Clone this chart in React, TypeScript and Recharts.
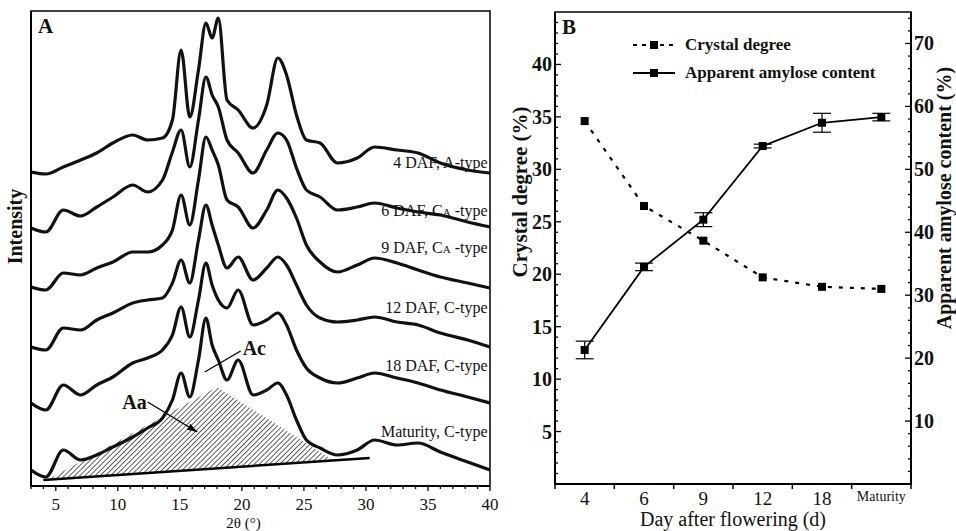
import React from "react";
import {
  Area,
  ComposedChart,
  ErrorBar,
  Label,
  Legend,
  Line,
  ReferenceArea,
  ReferenceDot,
  ReferenceLine,
  XAxis,
  YAxis,
} from "recharts";

const SERIF = '"Liberation Serif", "DejaVu Serif", serif';
const INK = "#111";

// ---- panel A: XRD patterns (intensity in a.u., curves stacked) ----
const twoTheta = [3, 4.2, 5.6, 7, 8.3, 9.6, 11.2, 12.4, 13.6, 14.4, 15.1, 15.8, 16.5, 17.1, 17.6, 18.1, 18.8, 19.7, 20.9, 22, 22.9, 23.6, 24.4, 25.2, 26.3, 27.7, 29.3, 30.7, 32.5, 34.2, 36, 38.2, 40];
const daf4 = [314, 312, 319, 326, 333, 343, 351, 346, 348, 366, 436, 369, 416, 463, 448, 468, 386, 376, 358, 381, 428, 411, 371, 346, 343, 323, 328, 339, 336, 333, 323, 316, 313];
const daf6 = [258, 254, 276, 270, 279, 289, 301, 294, 306, 334, 356, 319, 366, 409, 391, 379, 346, 333, 313, 336, 353, 346, 318, 296, 289, 276, 279, 283, 278, 274, 271, 264, 259];
const daf9 = [199, 196, 213, 211, 218, 224, 234, 234, 241, 256, 291, 261, 306, 349, 336, 321, 286, 279, 258, 276, 296, 288, 268, 241, 224, 214, 221, 228, 223, 216, 209, 203, 198];
const daf12 = [139, 136, 158, 156, 166, 173, 183, 186, 188, 203, 226, 203, 246, 281, 261, 241, 218, 229, 206, 218, 229, 221, 201, 181, 168, 164, 166, 169, 164, 161, 153, 146, 139];
const daf18 = [83, 76, 101, 91, 101, 109, 123, 128, 136, 151, 179, 149, 186, 223, 201, 186, 178, 196, 161, 166, 173, 161, 136, 118, 108, 103, 108, 113, 108, 103, 96, 89, 83];
const maturity = [16, 9, 36, 26, 31, 39, 49, 58, 68, 86, 113, 89, 126, 168, 141, 126, 106, 126, 91, 96, 103, 91, 66, 46, 38, 31, 36, 46, 41, 43, 34, 24, 16];
const patternKeys = ["daf4", "daf6", "daf9", "daf12", "daf18", "maturity"];
const patternLabels = ["4 DAF, A-type", "6 DAF, CA-type", "9 DAF, CA-type", "12 DAF, C-type", "18 DAF, C-type", "Maturity, C-type"];
const patternLabelLevel = [323, 275, 238, 178, 120, 54];

// amorphous area (Aa) under the maturity pattern and its baseline
const hatchTheta = [4.3, 18, 27.4];
const hatchLow = [6, 17.7, 25.6];
const hatchHigh = [6, 99, 25.6];
const baseTheta = [4, 30.3];
const baseLevel = [6, 28];

const thetaLabels = [5, 10, 15, 20, 25, 30, 35, 40];

// ---- panel B ----
const days = ["4", "6", "9", "12", "18", "Maturity"];
const crystalDegree = [34.6, 26.5, 23.2, 19.7, 18.8, 18.6];
const amylose = [21.3, 34.5, 42.0, 53.7, 57.4, 58.3];
const amyloseErr = [1.4, 0.6, 1.1, 0.3, 1.5, 0.6];
const crystalLabels = [5, 10, 15, 20, 25, 30, 35, 40];
const amyloseLabels = [10, 20, 30, 40, 50, 60, 70];
const seriesNames = ["Crystal degree", "Apparent amylose content"];

const xrdRows = twoTheta.map((t, i) => ({
  t,
  daf4: daf4[i],
  daf6: daf6[i],
  daf9: daf9[i],
  daf12: daf12[i],
  daf18: daf18[i],
  maturity: maturity[i],
}));
const hatchRows = hatchTheta.map((t, i) => ({ t, range: [hatchLow[i], hatchHigh[i]] }));
const baseRows = baseTheta.map((t, i) => ({ t, v: baseLevel[i] }));

const bRows = days.map((d, i) => ({
  x: i + 0.5,
  day: d,
  crystal: crystalDegree[i],
  amylose: amylose[i],
  amyloseErr: amyloseErr[i],
}));

const thetaTicks = Array.from({ length: 38 }, (_, i) => 3 + i);
const dayTicks = Array.from({ length: 13 }, (_, i) => i / 2);
const crystalTicks = Array.from({ length: 44 }, (_, i) => i + 1);
const amyloseTicks = Array.from({ length: 37 }, (_, i) => (i + 1) * 2);

function ThetaTick({ x, y, payload }: any) {
  const v = payload.value;
  const major = thetaLabels.includes(v);
  return (
    <g>
      <line x1={x} y1={y} x2={x} y2={y + (major ? 5 : 3)} stroke="#000" strokeWidth={1.3} />
      {major && (
        <text x={x} y={y + 24} textAnchor="middle" fontFamily={SERIF} fontSize={17} fill={INK}>
          {v}
        </text>
      )}
    </g>
  );
}

function DayTick({ x, y, payload }: any) {
  const v = payload.value;
  if (Number.isInteger(v)) {
    return <line x1={x} y1={y} x2={x} y2={y + 5} stroke="#000" strokeWidth={1.5} />;
  }
  const name = days[Math.floor(v)];
  const small = name.length > 3;
  return (
    <text x={x} y={y + (small ? 17 : 21)} textAnchor="middle" fontFamily={SERIF} fontSize={small ? 14 : 19} fill={INK}>
      {name}
    </text>
  );
}

function CrystalTick({ x, y, payload }: any) {
  const v = payload.value;
  const major = v % 5 === 0;
  return (
    <g>
      <line x1={x} y1={y} x2={x + (major ? 6 : 3)} y2={y} stroke="#000" strokeWidth={1.3} />
      {crystalLabels.includes(v) && (
        <text x={x - 3} y={y} dy={7} textAnchor="end" fontFamily={SERIF} fontWeight="bold" fontSize={20} fill={INK}>
          {v}
        </text>
      )}
    </g>
  );
}

function AmyloseTick({ x, y, payload }: any) {
  const v = payload.value;
  const major = v % 10 === 0;
  return (
    <g>
      <line x1={x} y1={y} x2={x - (major ? 6 : 3)} y2={y} stroke="#000" strokeWidth={1.3} />
      {amyloseLabels.includes(v) && (
        <text x={x + 3} y={y} dy={7} textAnchor="start" fontFamily={SERIF} fontWeight="bold" fontSize={20} fill={INK}>
          {v}
        </text>
      )}
    </g>
  );
}

function VTitle({ viewBox, text, dx = 0, dy = 0, size = 20 }: any) {
  const cx = viewBox.x + viewBox.width / 2 + dx;
  const cy = viewBox.y + viewBox.height / 2 + dy;
  return (
    <text
      x={cx}
      y={cy}
      transform={`rotate(-90 ${cx} ${cy})`}
      textAnchor="middle"
      dominantBaseline="central"
      fontFamily={SERIF}
      fontWeight="bold"
      fontSize={size}
      fill={INK}
    >
      {text}
    </text>
  );
}

function HTitle({ viewBox, text, dx = 0, size = 15, lift = 3 }: any) {
  return (
    <text
      x={viewBox.x + viewBox.width / 2 + dx}
      y={viewBox.y + viewBox.height - lift}
      textAnchor="middle"
      fontFamily={SERIF}
      fontSize={size}
      fill={INK}
    >
      {text}
    </text>
  );
}

function CurveTag({ viewBox, text }: any) {
  const parts = text.split("CA-type");
  return (
    <text x={viewBox.x} y={viewBox.y} dy={5} textAnchor="end" fontFamily={SERIF} fontSize={16} fill={INK}>
      {parts.length > 1 ? (
        <>
          {parts[0]}C<tspan fontSize={11}>A</tspan> -type
        </>
      ) : (
        text
      )}
    </text>
  );
}

function BoldTag({ viewBox, text }: any) {
  return (
    <text x={viewBox.x} y={viewBox.y} dy={7} textAnchor="middle" fontFamily={SERIF} fontWeight="bold" fontSize={20} fill={INK}>
      {text}
    </text>
  );
}

function ArrowLine(props: any) {
  const { x1, y1, x2, y2 } = props;
  const a = Math.atan2(y2 - y1, x2 - x1);
  const bx = x2 - 10 * Math.cos(a);
  const by = y2 - 10 * Math.sin(a);
  const s = Math.sin(a) * 3.5;
  const c = Math.cos(a) * 3.5;
  return (
    <g>
      <line x1={x1} y1={y1} x2={x2} y2={y2} stroke="#000" strokeWidth={1.4} />
      <polygon points={`${x2},${y2} ${bx - s},${by + c} ${bx + s},${by - c}`} fill="#000" />
    </g>
  );
}

function SquareDot({ cx, cy }: any) {
  if (cx == null || cy == null) return null;
  return <rect x={cx - 4} y={cy - 4} width={8} height={8} fill="#000" />;
}

function BLegend({ payload }: any) {
  const entries = seriesNames.map((n) => (payload || []).find((e: any) => e.value === n)).filter(Boolean);
  return (
    <div style={{ fontFamily: SERIF, fontWeight: "bold", fontSize: 17, color: INK }}>
      {entries.map((entry: any) => (
        <div key={entry.value} style={{ display: "flex", alignItems: "center", height: 28 }}>
          <svg width={42} height={12}>
            <line
              x1={0}
              y1={6}
              x2={42}
              y2={6}
              stroke="#000"
              strokeWidth={2}
              strokeDasharray={entry.value === seriesNames[0] ? "4 5" : undefined}
            />
            <rect x={17} y={2} width={8} height={8} fill="#000" />
          </svg>
          <span style={{ marginLeft: 10 }}>{entry.value}</span>
        </div>
      ))}
    </div>
  );
}

function XrdPanel() {
  return (
    <ComposedChart width={510} height={531} data={xrdRows} margin={{ top: 11, right: 20, left: 0, bottom: 0 }}>
      <defs>
        <pattern id="hatch" width="3.6" height="3.6" patternUnits="userSpaceOnUse" patternTransform="rotate(45)">
          <rect width="3.6" height="3.6" fill="#fff" />
          <line x1="0" y1="0" x2="0" y2="3.6" stroke="#444" strokeWidth="1.7" />
        </pattern>
      </defs>
      <XAxis
        dataKey="t"
        type="number"
        domain={[3, 40]}
        allowDataOverflow
        ticks={thetaTicks}
        interval={0}
        tick={<ThetaTick />}
        tickLine={false}
        tickSize={0}
        tickMargin={0}
        height={45}
        axisLine={{ stroke: "#000", strokeWidth: 2 }}
      >
        <Label content={<HTitle text="2θ (°)" dx={-17} size={15} />} />
      </XAxis>
      <YAxis type="number" domain={[0, 475]} allowDataOverflow width={31} tick={false} tickLine={false} axisLine={{ stroke: "#000", strokeWidth: 2 }}>
        <Label content={<VTitle text="Intensity" dx={-1} dy={-22} size={20} />} />
      </YAxis>
      <ReferenceArea x1={3} x2={40} y1={0} y2={475} fill="none" stroke="#000" strokeWidth={1.5}>
        <Label value="A" position="insideTopLeft" offset={7} fontFamily={SERIF} fontWeight="bold" fontSize={21} fill={INK} />
      </ReferenceArea>
      <Area data={hatchRows} dataKey="range" type="linear" stroke="none" fill="url(#hatch)" fillOpacity={1} isAnimationActive={false} />
      <Line data={baseRows} dataKey="v" type="linear" stroke="#000" strokeWidth={2.5} dot={false} isAnimationActive={false} />
      {patternKeys.map((k) => (
        <Line key={k} dataKey={k} type="monotone" stroke={INK} strokeWidth={3.2} dot={false} isAnimationActive={false} />
      ))}
      {patternLabels.map((txt, i) => (
        <ReferenceDot key={txt} x={39.8} y={patternLabelLevel[i]} r={0} fill="none" stroke="none" label={<CurveTag text={txt} />} />
      ))}
      <ReferenceLine segment={[{ x: 12.4, y: 84 }, { x: 16.4, y: 54 }]} shape={ArrowLine} />
      <ReferenceLine segment={[{ x: 19.9, y: 135 }, { x: 17.0, y: 114 }]} stroke="#000" strokeWidth={1.4} />
      <ReferenceDot x={11.35} y={84} r={0} fill="none" stroke="none" label={<BoldTag text="Aa" />} />
      <ReferenceDot x={21.0} y={138} r={0} fill="none" stroke="none" label={<BoldTag text="Ac" />} />
    </ComposedChart>
  );
}

function DayPanel() {
  return (
    <ComposedChart width={466} height={531} data={bRows} margin={{ top: 12, right: 0, left: 0, bottom: 0 }}>
      <XAxis
        dataKey="x"
        type="number"
        domain={[0, 6]}
        allowDataOverflow
        ticks={dayTicks}
        interval={0}
        tick={<DayTick />}
        tickLine={false}
        tickSize={0}
        tickMargin={0}
        height={47}
        axisLine={{ stroke: "#000", strokeWidth: 2 }}
      >
        <Label content={<HTitle text="Day after flowering (d)" size={20} lift={5} />} />
      </XAxis>
      <YAxis
        yAxisId="left"
        type="number"
        domain={[0, 45]}
        allowDataOverflow
        ticks={crystalTicks}
        interval={0}
        width={65}
        tick={<CrystalTick />}
        tickLine={false}
        tickSize={0}
        tickMargin={0}
        axisLine={{ stroke: "#000", strokeWidth: 2 }}
      >
        <Label content={<VTitle text="Crystal degree (%)" dx={-3} dy={-56} size={21} />} />
      </YAxis>
      <YAxis
        yAxisId="right"
        orientation="right"
        type="number"
        domain={[0, 75]}
        allowDataOverflow
        ticks={amyloseTicks}
        interval={0}
        width={45}
        tick={<AmyloseTick />}
        tickLine={false}
        tickSize={0}
        tickMargin={0}
        axisLine={{ stroke: "#000", strokeWidth: 2 }}
      >
        <Label content={<VTitle text="Apparent amylose content (%)" dx={10} dy={-50} size={20} />} />
      </YAxis>
      <ReferenceArea yAxisId="left" x1={0} x2={6} y1={0} y2={45} fill="none" stroke="#000" strokeWidth={1.5}>
        <Label value="B" position="insideTopLeft" offset={7} fontFamily={SERIF} fontWeight="bold" fontSize={21} fill={INK} />
      </ReferenceArea>
      <Line
        yAxisId="left"
        name={seriesNames[0]}
        dataKey="crystal"
        type="linear"
        stroke="#000"
        strokeWidth={2.2}
        strokeDasharray="4 7"
        dot={<SquareDot />}
        isAnimationActive={false}
      />
      <Line
        yAxisId="right"
        name={seriesNames[1]}
        dataKey="amylose"
        type="linear"
        stroke="#000"
        strokeWidth={1.8}
        dot={<SquareDot />}
        isAnimationActive={false}
      >
        <ErrorBar dataKey="amyloseErr" width={9} stroke="#000" strokeWidth={1.2} direction="y" isAnimationActive={false} />
      </Line>
      <Legend
        content={<BLegend />}
        layout="vertical"
        align="center"
        verticalAlign="middle"
        wrapperStyle={{ left: 143, top: 31, width: 260 }}
      />
    </ComposedChart>
  );
}

export default function App() {
  return (
    <div style={{ position: "absolute", left: 0, top: 0, width: 956, height: 531, background: "#fff" }}>
      <div style={{ position: "absolute", left: 0, top: 0 }}>
        <XrdPanel />
      </div>
      <div style={{ position: "absolute", left: 490, top: 0 }}>
        <DayPanel />
      </div>
    </div>
  );
}
